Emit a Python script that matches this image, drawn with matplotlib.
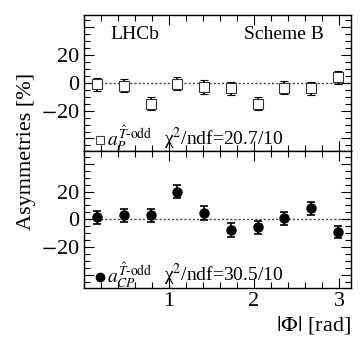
import numpy as np
import matplotlib
matplotlib.use("Agg")
import matplotlib.pyplot as plt
from matplotlib.ticker import MultipleLocator, FixedLocator, FuncFormatter

plt.rcParams['font.family'] = ['Liberation Serif', 'DejaVu Serif']
plt.rcParams['mathtext.fontset'] = 'stix'

# bin centres in |Phi| [rad]
phi = (np.arange(10) + 0.5) * np.pi / 10
aP = [-1, -2, -15, -0.5, -3, -4, -15, -3.5, -4, 4]
aP_err = [4.8, 4.8, 4.8, 4.8, 4.8, 4.8, 4.8, 4.8, 4.8, 4.5]
aCP = [1.5, 3, 3, 20, 4.6, -7.4, -5.6, 0.7, 8, -9]
aCP_err = [4.8, 4.8, 4.8, 4.8, 4.8, 4.8, 4.8, 4.8, 4.8, 4.5]

fig = plt.figure(figsize=(3.6, 3.47), dpi=100)
ax1 = fig.add_axes([0.233, 0.565, 0.742, 0.392])
ax2 = fig.add_axes([0.233, 0.170, 0.742, 0.395], sharex=ax1)


def ylab(v, _):
    if abs(v) > 30:
        return ''
    return '$-$%d' % -v if v < 0 else '%d' % v


for ax in (ax1, ax2):
    ax.axhline(0, color='#444444', ls=(0, (1.5, 1.5)), lw=1.0, zorder=1)
    ax.set_xlim(0, np.pi)
    ax.set_ylim(-49, 49)
    ax.yaxis.set_major_locator(FixedLocator([-40, -20, 0, 20, 40]))
    ax.yaxis.set_minor_locator(MultipleLocator(5))
    ax.yaxis.set_major_formatter(FuncFormatter(ylab))
    ax.xaxis.set_major_locator(MultipleLocator(1))
    ax.xaxis.set_minor_locator(MultipleLocator(0.2))
    ax.tick_params(which='both', direction='in', top=True, right=True,
                   labelsize=16, width=0.8, pad=3)
    ax.tick_params(which='major', length=7)
    ax.tick_params(which='minor', length=4)
    for s in ax.spines.values():
        s.set_linewidth(1.0)

ax2.xaxis.set_major_formatter(FuncFormatter(lambda v, _: '' if v < 0.5 else '%d' % v))

ax1.errorbar(phi, aP, yerr=aP_err, fmt='s', mfc='white', mec='#333333',
             ms=6.5, mew=0.8, ecolor='black', elinewidth=1.2, capsize=3, capthick=1.2, zorder=3)
ax2.errorbar(phi, aCP, yerr=aCP_err, fmt='o', color='black',
             ms=6.5, elinewidth=1.2, capsize=3, capthick=1.2, zorder=3)

plt.setp(ax1.get_xticklabels(), visible=False)

ax1.text(0.1, 0.82, 'LHCb', transform=ax1.transAxes, fontsize=14)
ax1.text(0.6, 0.82, 'Scheme B', transform=ax1.transAxes, fontsize=14)

ax1.plot([0.19], [-41], 's', mfc='white', mec='#444444', ms=6, mew=0.8)
ax1.text(0.27, -40, r'$a_{P}^{\hat{T}\text{-odd}}$', fontsize=14, va='center')
ax1.text(0.94, -40, 'χ$^2$/ndf=20.7/10', fontsize=14, va='center')

ax2.plot([0.19], [-41], 'o', color='black', ms=6)
ax2.text(0.27, -40, r'$a_{CP}^{\hat{T}\text{-odd}}$', fontsize=14, va='center')
ax2.text(0.94, -40, 'χ$^2$/ndf=30.5/10', fontsize=14, va='center')

ax2.set_xlabel(r'$|\Phi|$ [rad]', fontsize=16, loc='right', labelpad=2)
fig.text(0.075, 0.565, 'Asymmetries [%]', rotation=90, fontsize=16,
         va='center', ha='center')

fig.savefig('out.png', dpi=100)
